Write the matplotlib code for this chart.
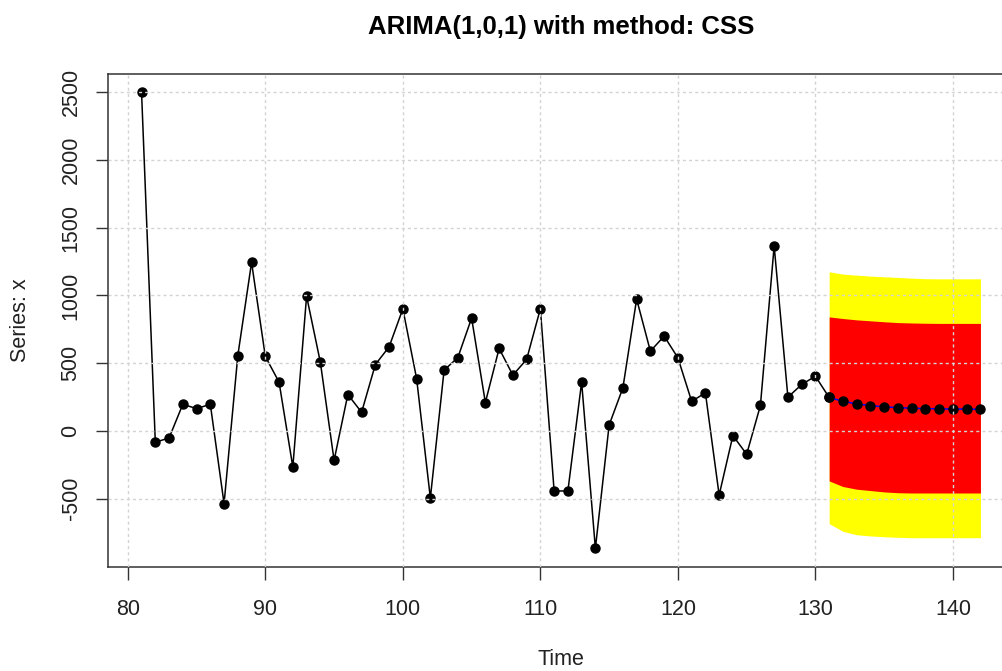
import numpy as np
import matplotlib
matplotlib.use('Agg')
import matplotlib.pyplot as plt

plt.rcParams['font.family'] = ['Liberation Sans', 'DejaVu Sans']

# 观测序列 t = 81..130
time_obs = list(range(81, 131))
x_obs = [2500, -83, -52, 197, 165, 197, -537, 557, 1244, 550,
         360, -266, 995, 508, -217, 269, 138, 490, 621, 901,
         387, -495, 449, 542, 833, 210, 609, 412, 528, 902,
         -443, -443, 360, -867, 44, 318, 973, 589, 700, 540,
         219, 281, -473, -34, -172, 188, 1365, 249, 343, 404]

# 预测 t = 131..142
time_fc = list(range(131, 143))
fc_mean = [247, 219, 200, 187, 178, 172, 168, 165, 163, 162, 161, 160]
hi80 = [842, 830, 820, 813, 806, 800, 797, 795, 794, 794, 794, 794]
lo80 = [-369, -410, -430, -440, -450, -456, -458, -458, -458, -458, -458, -458]
hi95 = [1175, 1158, 1150, 1143, 1138, 1133, 1128, 1124, 1123, 1123, 1123, 1123]
lo95 = [-684, -741, -766, -775, -781, -785, -788, -788, -788, -788, -788, -788]

xticks = [80, 90, 100, 110, 120, 130, 140]
yticks = [-500, 0, 500, 1000, 1500, 2000, 2500]

fig = plt.figure(figsize=(10.03, 6.71), dpi=100)
ax = fig.add_axes([108 / 1003, 1 - 566.7 / 671, (1014 - 108) / 1003, (566.7 - 74) / 671])

# 置信区间
ax.fill_between(time_fc, lo95, hi95, color='yellow', linewidth=0, zorder=1)
ax.fill_between(time_fc, lo80, hi80, color='red', linewidth=0, zorder=1.1)

# 序列 + 预测
ax.plot(time_obs + [time_fc[0]], x_obs + [fc_mean[0]], color='black', lw=1.1,
        marker='o', ms=6.5, mfc='black', mec='black', zorder=2)
ax.plot(time_fc, fc_mean, color='blue', lw=1.1, marker='o', ms=6.5,
        mfc='black', mec='black', zorder=2)

ax.set_xlim(78.56, 144.44)
ax.set_ylim(-1002, 2635)
ax.set_xticks(xticks)
ax.set_yticks(yticks)
ax.set_yticklabels([str(v) for v in yticks], rotation=90, va='center')
ax.tick_params(axis='both', labelsize=15.5, length=9, width=1.0, color='#333333',
               labelcolor='#222222')
ax.tick_params(axis='x', pad=14)
ax.tick_params(axis='y', pad=10)

for s in ax.spines.values():
    s.set_color('#333333')
    s.set_linewidth(1.1)

ax.set_axisbelow(False)
ax.grid(True, color='#d3d3d3', linestyle=(0, (2.2, 2.2)), linewidth=1.0)

ax.set_title('ARIMA(1,0,1) with method: CSS', fontsize=18.5, fontweight='bold', pad=29)
ax.set_xlabel('Time', fontsize=15.5, labelpad=21, color='#222222')
ax.set_ylabel('Series: x', fontsize=15.5, labelpad=21, color='#222222')

fig.savefig('out.png', dpi=100)
